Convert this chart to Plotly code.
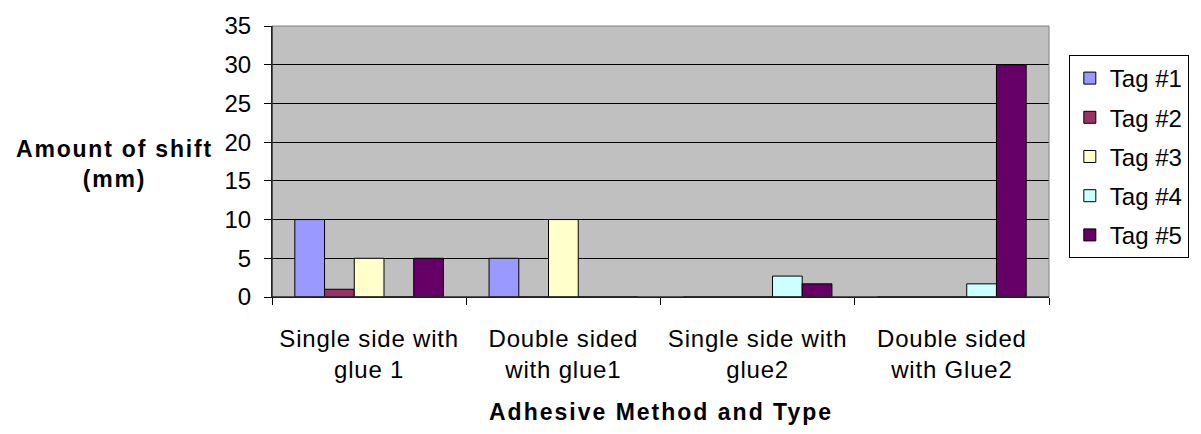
import plotly.graph_objects as go

# Categories (adhesive method / glue) and shift per tag, in mm
categories = [
    "Single side with<br>glue 1",
    "Double sided<br>with glue1",
    "Single side with<br>glue2",
    "Double sided<br>with Glue2",
]
tag_names = ["Tag #1", "Tag #2", "Tag #3", "Tag #4", "Tag #5"]
tag1 = [10, 5, 0, 0]
tag2 = [1, 0, 0, 0]
tag3 = [5, 10, 0, 0]
tag4 = [0, 0, 2.7, 1.7]
tag5 = [5, 0, 1.7, 30]
y_ticks = [0, 5, 10, 15, 20, 25, 30, 35]

colors = ["#9999FF", "#993366", "#FFFFCC", "#CCFFFF", "#660066"]
FONT = "Liberation Sans, Arial, sans-serif"


def spaced(text, spacing):
    """Wrap each line of a label in a span with extra letter spacing."""
    return "<br>".join(
        f"<span style='letter-spacing:{spacing}px'>{line}</span>"
        for line in text.split("<br>")
    )


fig = go.Figure()
for i, (name, vals) in enumerate(zip(tag_names, [tag1, tag2, tag3, tag4, tag5])):
    fig.add_trace(go.Bar(
        x=categories, y=vals, name=name, legendgroup=name,
        marker=dict(color=colors[i], line=dict(color="black", width=1)),
    ))

fig.update_layout(
    width=1201, height=434,
    margin=dict(l=272, r=144, t=24, b=137),
    paper_bgcolor="white", plot_bgcolor="#C0C0C0",
    font=dict(family=FONT, size=24, color="black"),
    barmode="group", bargap=0.235, bargroupgap=0,
    showlegend=True,
    legend=dict(
        x=1.0255, y=0.893, xanchor="left", yanchor="top",
        bordercolor="black", borderwidth=1, bgcolor="white",
        font=dict(family=FONT, size=24), tracegroupgap=5,
        traceorder="grouped",
    ),
)

fig.update_xaxes(
    tickvals=categories,
    ticktext=[spaced(c, 0.8) for c in categories],
    tickson="boundaries", ticks="outside", ticklen=7, tickcolor="black",
    showline=True, linecolor="black", linewidth=1,
    showgrid=False, tickfont=dict(size=24), ticklabelstandoff=20,
)
fig.update_yaxes(
    range=[0, 35], tickvals=y_ticks, ticks="outside", ticklen=7,
    tickcolor="black", showline=True, linecolor="black", linewidth=1,
    showgrid=True, gridcolor="black", gridwidth=1, zeroline=False,
    tickfont=dict(size=24), ticklabelstandoff=8,
)

# plot-area border
fig.add_shape(type="rect", xref="paper", yref="paper", x0=0, x1=1, y0=0, y1=1,
              line=dict(color="#808080", width=1), layer="above")
fig.add_shape(type="line", xref="paper", yref="paper", x0=0, x1=0, y0=0, y1=1,
              line=dict(color="black", width=1), layer="above")
fig.add_shape(type="line", xref="paper", yref="paper", x0=0, x1=1, y0=0, y1=0,
              line=dict(color="black", width=1), layer="above")

# axis titles
fig.add_annotation(
    text=spaced("<b>Amount of shift</b><br><b>(mm)</b>", 1.8),
    xref="paper", yref="paper", x=-0.2025, y=0.49,
    xanchor="center", yanchor="middle", showarrow=False,
    font=dict(size=23),
)
fig.add_annotation(
    text=spaced("<b>Adhesive Method and Type</b>", 2),
    xref="paper", yref="paper", x=0.5, y=-0.425,
    xanchor="center", yanchor="middle", showarrow=False,
    font=dict(size=23),
)

fig.write_html("out.html")
